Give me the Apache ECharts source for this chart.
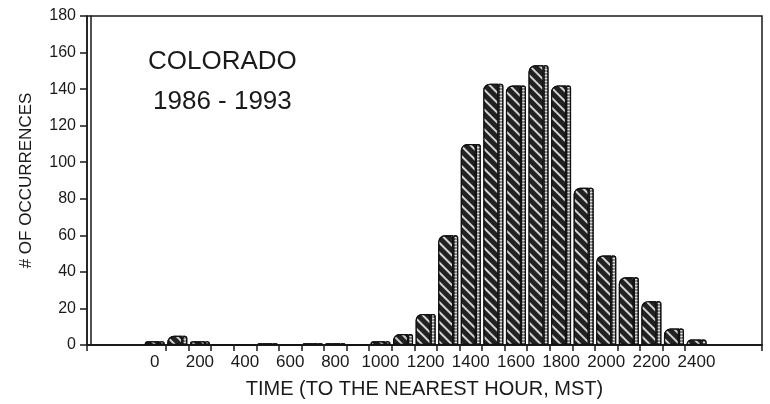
<!DOCTYPE html>
<html>
<head>
<meta charset="utf-8">
<script src="https://cdn.jsdelivr.net/npm/echarts@6/dist/echarts.min.js"></script>
<style>
html,body{margin:0;padding:0;background:#fff;}
#chart{width:770px;height:404px;}
</style>
</head>
<body>
<div id="chart"></div>
<script>
// Hour of day (0 = midnight ... 24), labelled as MST clock times
const hours = [0,1,2,3,4,5,6,7,8,9,10,11,12,13,14,15,16,17,18,19,20,21,22,23,24];
const counts = [2,5,2,0,0,1,0,1,1,0,2,6,17,60,110,143,142,153,142,86,49,37,24,9,3];
const labelHours = [0,2,4,6,8,10,12,14,16,18,20,22,24];
const labelTexts = ['0','200','400','600','800','1000','1200','1400','1600','1800','2000','2200','2400'];
const yMin = 0, yMax = 180, yStep = 20;
const xMin = -3, xMax = 26.9;
const titleLines = ['COLORADO', '1986 - 1993'];
const xTitle = 'TIME (TO THE NEAREST HOUR, MST)';
const yTitle = '# OF OCCURRENCES';

const FONT = "'Liberation Sans', Arial, Helvetica, sans-serif";
const pairs = hours.map((h, i) => [h, counts[i]]);
const tickVals = [xMin].concat(hours.slice(0, -1).map(h => h + 0.5)).concat([xMax]);

const chart = echarts.init(document.getElementById('chart'), null, {renderer: 'canvas'});
chart.setOption({
  animation: false,
  backgroundColor: '#fff',
  grid: {left: 87, right: 8, top: 16, bottom: 56, show: true, borderColor: '#1a1a1a', borderWidth: 1.5, backgroundColor: 'transparent'},
  xAxis: {
    type: 'value', min: xMin, max: xMax,
    name: xTitle, nameLocation: 'middle', nameGap: 34,
    nameTextStyle: {fontFamily: FONT, fontSize: 20, color: '#1a1a1a'},
    axisLine: {show: true, onZero: false, lineStyle: {color: '#1a1a1a', width: 2}},
    axisTick: {show: true, customValues: tickVals, length: 6, lineStyle: {color: '#1a1a1a', width: 1.5}},
    axisLabel: {show: true, customValues: labelHours, margin: 9, fontFamily: FONT, fontSize: 17, color: '#1a1a1a',
      formatter: v => labelTexts[labelHours.indexOf(Math.round(v))] || ''},
    splitLine: {show: false}
  },
  yAxis: [{
    type: 'value', min: yMin, max: yMax, interval: yStep,
    name: yTitle, nameLocation: 'middle', nameGap: 52, nameRotate: 90,
    nameTextStyle: {fontFamily: FONT, fontSize: 17, color: '#1a1a1a'},
    axisLine: {show: true, onZero: false, lineStyle: {color: '#1a1a1a', width: 1.5}},
    axisTick: {show: true, inside: false, length: 7, lineStyle: {color: '#1a1a1a', width: 1.5}},
    axisLabel: {margin: 11, fontFamily: FONT, fontSize: 16, color: '#1a1a1a'},
    splitLine: {show: false}
  }, {
    type: 'value', min: yMin, max: yMax, position: 'left', offset: -4,
    axisLine: {show: true, onZero: false, lineStyle: {color: '#1a1a1a', width: 1.5}},
    axisTick: {show: false}, axisLabel: {show: false}, splitLine: {show: false}
  }],
  series: [{
    type: 'bar', data: pairs, barWidth: 15, barGap: '0%',
    itemStyle: {
      color: '#222', borderColor: '#111', borderWidth: 1.2, borderRadius: [6, 0, 0, 0],
      decal: {symbol: 'rect', symbolSize: 1, dashArrayX: [1, 0], dashArrayY: [2, 5], rotation: Math.PI / 4, color: 'rgba(255,255,255,0.8)'}
    }
  }, {
    type: 'bar', data: pairs, barWidth: 5, barGap: '0%',
    itemStyle: {color: '#8a8a8a', borderColor: '#111', borderWidth: 1.2, borderRadius: [0, 2, 0, 0],
      decal: {symbol: 'rect', symbolSize: 1, dashArrayX: [1, 0], dashArrayY: [1, 2], color: 'rgba(255,255,255,0.7)'}}
  }],
  graphic: [
    {type: 'text', left: 148, top: 49, style: {text: titleLines[0], fontFamily: FONT, fontSize: 26, fill: '#1a1a1a'}},
    {type: 'text', left: 153, top: 89, style: {text: titleLines[1], fontFamily: FONT, fontSize: 26, fill: '#1a1a1a'}}
  ]
});
</script>
</body>
</html>
